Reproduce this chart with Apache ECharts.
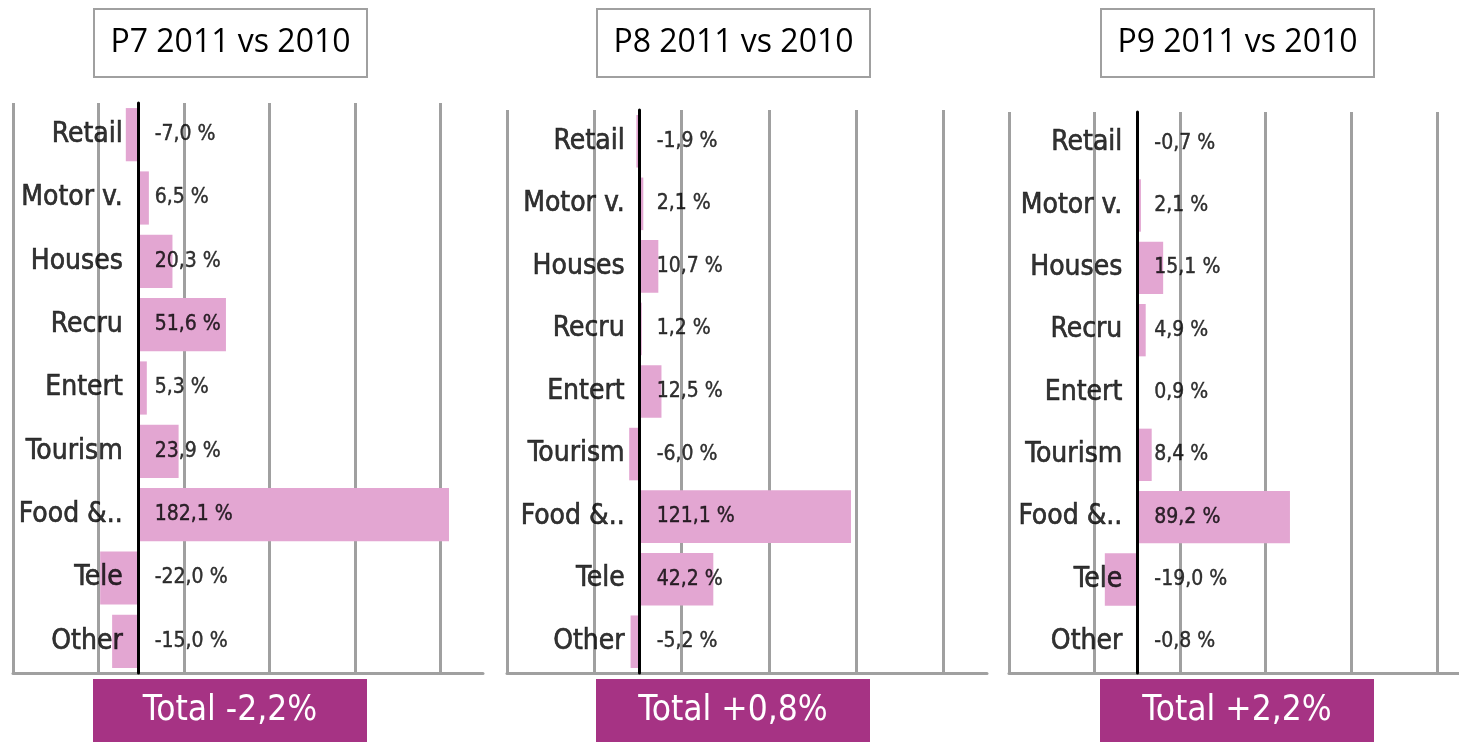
<!DOCTYPE html>
<html>
<head>
<meta charset="utf-8">
<script src="https://cdn.jsdelivr.net/npm/echarts@6/dist/echarts.min.js"></script>
<style>
  html, body { margin: 0; padding: 0; background: #ffffff; }
  #chart { width: 1459px; height: 742px; }
</style>
</head>
<body>
<div id="chart"></div>
<script>
const categories = ['Retail', 'Motor v.', 'Houses', 'Recru', 'Entert', 'Tourism', 'Food &..', 'Tele', 'Other'];
const p7Values = [-7.0, 6.5, 20.3, 51.6, 5.3, 23.9, 182.1, -22.0, -15.0];
const p8Values = [-1.9, 2.1, 10.7, 1.2, 12.5, -6.0, 121.1, 42.2, -5.2];
const p9Values = [-0.7, 2.1, 15.1, 4.9, 0.9, 8.4, 89.2, -19.0, -0.8];
const panelTitles = ['P7 2011 vs 2010', 'P8 2011 vs 2010', 'P9 2011 vs 2010'];
const panelTotals = ['Total -2,2%', 'Total +0,8%', 'Total +2,2%'];
const axisMin = [-73, -76, -75];
const axisMax = [202, 199, 188];

const seriesValues = [p7Values, p8Values, p9Values];

// layout of the three panels
const panels = [
  { left: 13, top: 103, width: 470, height: 570, boxX: 94 },
  { left: 507, top: 110, width: 480, height: 563, boxX: 597 },
  { left: 1009, top: 112, width: 450, height: 561, boxX: 1101 }
];

const fmt = (v) => v.toFixed(1).replace('.', ',') + ' %';

const grids = [], xAxes = [], yAxes = [], series = [], graphics = [];

panels.forEach((p, i) => {
  grids.push({
    left: p.left, top: p.top, width: p.width, height: p.height,
    containLabel: false,
    outerBoundsMode: 'none'
  });
  xAxes.push({
    type: 'value',
    gridIndex: i,
    min: axisMin[i],
    max: axisMax[i],
    interval: 50,
    axisLine: { show: true, lineStyle: { color: '#a0a0a0', width: 3 } },
    axisTick: { show: false },
    axisLabel: { show: false },
    splitLine: {
      show: true,
      showMinLine: true,
      showMaxLine: false,
      lineStyle: { color: '#a0a0a0', width: 3 }
    }
  });
  yAxes.push({
    type: 'category',
    gridIndex: i,
    data: categories,
    inverse: true,
    z: 5,
    axisLine: { show: true, onZero: true, lineStyle: { color: '#000000', width: 3 } },
    axisTick: { show: false },
    splitLine: { show: false },
    axisLabel: { show: false }
  });
  series.push({
    type: 'bar',
    xAxisIndex: i,
    yAxisIndex: i,
    data: seriesValues[i],
    barWidth: '84%',
    itemStyle: { color: '#e3a6d2' },
    silent: true
  });
  // category names, just left of the zero line
  series.push({
    type: 'scatter',
    xAxisIndex: i,
    yAxisIndex: i,
    z: 6,
    symbolSize: 0,
    data: categories.map((c) => [0, c]),
    label: {
      show: true,
      position: 'left',
      distance: 15,
      color: '#000000',
      textBorderColor: '#000000',
      textBorderWidth: 0.6,
      fontFamily: 'DejaVu Sans Condensed',
      fontSize: 28,
      formatter: (params) => params.value[1]
    },
    silent: true
  });
  // value labels sit just right of the zero line
  series.push({
    type: 'scatter',
    xAxisIndex: i,
    yAxisIndex: i,
    z: 6,
    symbolSize: 0,
    data: seriesValues[i].map((v, k) => [0, categories[k], v]),
    label: {
      show: true,
      position: 'right',
      distance: 17,
      color: '#000000',
      textBorderColor: '#000000',
      textBorderWidth: 0.4,
      fontFamily: 'DejaVu Sans Condensed',
      fontSize: 21,
      formatter: (params) => fmt(params.value[2])
    },
    silent: true
  });

  graphics.push({
    type: 'rect',
    shape: { x: p.boxX, y: 9, width: 273, height: 68 },
    style: { fill: '#ffffff', stroke: '#a0a0a0', lineWidth: 2 },
    textContent: {
      style: { text: panelTitles[i], fill: '#000000', font: '32px "Open Sans"' }
    },
    textConfig: { position: 'inside' }
  });
  graphics.push({
    type: 'rect',
    shape: { x: p.boxX - 1, y: 679, width: 274, height: 64 },
    style: { fill: '#a63384' },
    textContent: {
      style: { text: panelTotals[i], fill: '#ffffff', font: '35px "DejaVu Sans Condensed"' }
    },
    textConfig: { position: 'inside' }
  });
});

const myChart = echarts.init(document.getElementById('chart'));
myChart.setOption({
  animation: false,
  backgroundColor: '#ffffff',
  grid: grids,
  xAxis: xAxes,
  yAxis: yAxes,
  series: series,
  graphic: graphics
});
</script>
</body>
</html>
